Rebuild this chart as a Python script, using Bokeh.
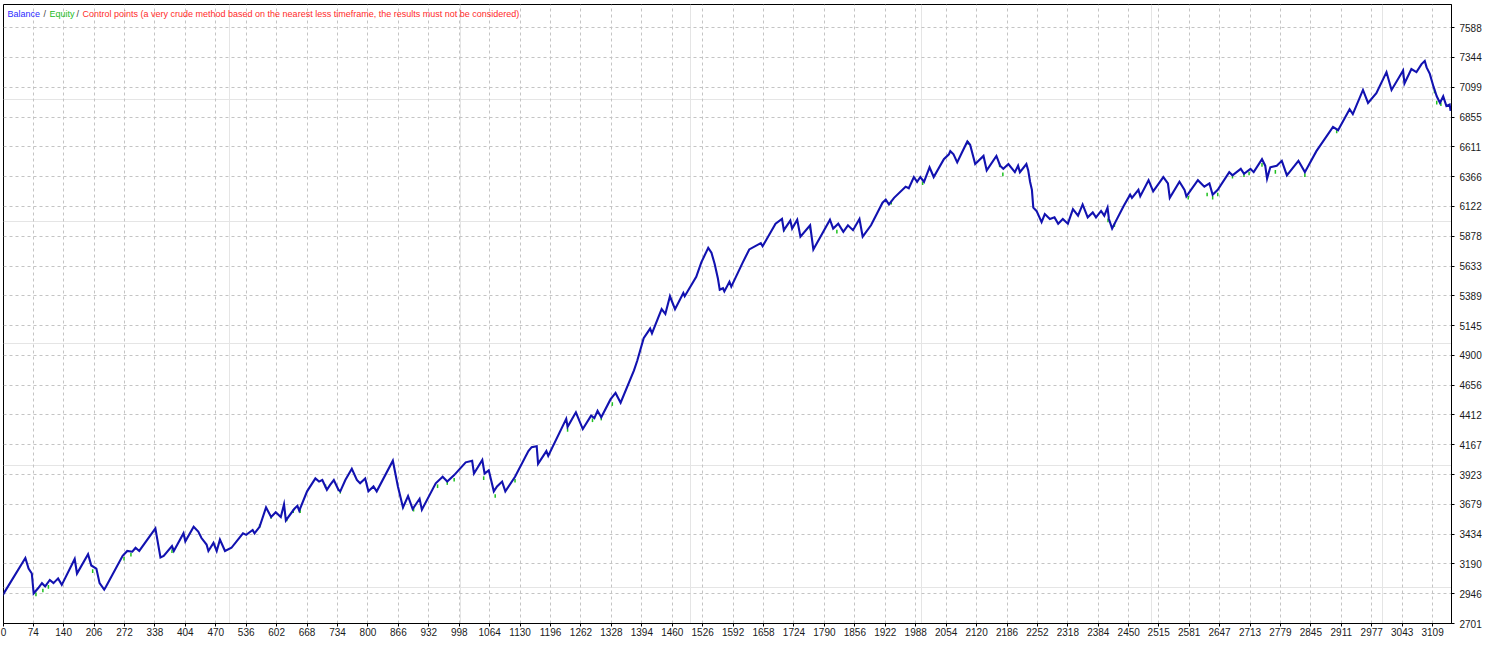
from bokeh.plotting import figure
from bokeh.models import LinearAxis, FixedTicker, Range1d, Label, Grid, ColumnDataSource
from bokeh.embed import file_html
from bokeh.resources import INLINE

# ---------------- data ----------------
trade_no = [0, 57, 64, 71, 75, 85, 93, 100, 110, 118, 128, 136, 164, 169, 193, 200, 211, 218, 228, 232,
            268, 278, 289, 296, 304, 339, 350, 357, 375, 379, 400, 404, 422, 432, 439, 450, 454, 465, 472, 479,
            490, 504, 529, 536, 550, 554, 565, 579, 590, 600, 611, 618, 622, 640, 647, 651, 668, 686, 694, 701,
            711, 718, 726, 736, 740, 751, 765, 776, 783, 794, 801, 812, 819, 854, 865, 876, 887, 897, 912, 917,
            947, 962, 972, 987, 1012, 1026, 1030, 1048, 1053, 1062, 1073, 1080, 1091, 1098, 1119, 1148, 1155, 1166, 1169, 1187,
            1191, 1230, 1233, 1251, 1266, 1284, 1291, 1298, 1306, 1326, 1337, 1348, 1377, 1384, 1398, 1412, 1416, 1430, 1437, 1445,
            1455, 1466, 1484, 1487, 1512, 1523, 1538, 1545, 1552, 1559, 1563, 1570, 1573, 1584, 1588, 1613, 1627, 1652, 1656, 1684,
            1698, 1702, 1716, 1720, 1731, 1738, 1759, 1766, 1802, 1809, 1820, 1831, 1841, 1852, 1866, 1873, 1891, 1916, 1923, 1930,
            1941, 1966, 1973, 1984, 1991, 1998, 2006, 2018, 2027, 2049, 2060, 2063, 2070, 2078, 2088, 2100, 2106, 2117, 2135, 2142,
            2163, 2171, 2178, 2189, 2203, 2210, 2214, 2228, 2232, 2236, 2240, 2243, 2250, 2261, 2268, 2279, 2289, 2297, 2307, 2318,
            2329, 2340, 2350, 2361, 2372, 2379, 2390, 2397, 2404, 2407, 2414, 2421, 2439, 2453, 2457, 2471, 2475, 2493, 2503, 2525,
            2535, 2539, 2560, 2571, 2575, 2600, 2614, 2625, 2632, 2643, 2668, 2675, 2693, 2700, 2714, 2721, 2739, 2746, 2750, 2757,
            2771, 2782, 2793, 2818, 2822, 2832, 2857, 2893, 2904, 2929, 2936, 2958, 2969, 2987, 3009, 3020, 3045, 3048, 3063, 3074,
            3085, 3092, 3096, 3103, 3111, 3118, 3125, 3132, 3139, 3146, 3148]
balance = [2885, 3238, 3151, 3111, 2947, 2992, 3032, 3005, 3058, 3032, 3071, 3018, 3230, 3111, 3270, 3177, 3151, 3032, 2979, 3005,
           3256, 3296, 3290, 3322, 3296, 3481, 3243, 3256, 3336, 3296, 3441, 3375, 3494, 3455, 3402, 3349, 3296, 3362, 3296, 3389,
           3296, 3322, 3441, 3428, 3468, 3441, 3494, 3653, 3574, 3613, 3574, 3679, 3547, 3640, 3666, 3626, 3785, 3891, 3865, 3878,
           3798, 3838, 3878, 3798, 3785, 3878, 3970, 3878, 3851, 3891, 3785, 3825, 3785, 4036, 3825, 3653, 3746, 3640, 3724, 3635,
           3851, 3904, 3865, 3918, 4023, 4036, 3931, 4042, 3931, 3957, 3785, 3825, 3865, 3785, 3904, 4115, 4147, 4155, 4010, 4115,
           4076, 4380, 4314, 4433, 4296, 4406, 4385, 4446, 4393, 4539, 4592, 4512, 4777, 4856, 5041, 5120, 5081, 5213, 5279, 5240,
           5385, 5279, 5412, 5385, 5544, 5663, 5782, 5742, 5650, 5531, 5438, 5451, 5425, 5504, 5464, 5663, 5769, 5821, 5795, 5980,
           6019, 5927, 6006, 5940, 6013, 5874, 5967, 5769, 6013, 5940, 5980, 5914, 5967, 5927, 6019, 5874, 5967, 6152, 6178, 6138,
           6192, 6284, 6271, 6363, 6324, 6363, 6324, 6443, 6363, 6509, 6549, 6575, 6549, 6483, 6562, 6655, 6628, 6469, 6536, 6417,
           6536, 6456, 6430, 6469, 6403, 6456, 6403, 6469, 6417, 6324, 6258, 6112, 6085, 5993, 6059, 6019, 6032, 5980, 6019, 5980,
           6099, 6046, 6138, 6032, 6072, 6032, 6085, 6046, 6112, 6019, 5940, 5993, 6125, 6218, 6192, 6258, 6205, 6337, 6245, 6363,
           6310, 6192, 6324, 6258, 6205, 6337, 6284, 6310, 6218, 6258, 6403, 6377, 6430, 6390, 6430, 6403, 6509, 6456, 6350, 6443,
           6456, 6496, 6377, 6496, 6469, 6403, 6575, 6774, 6747, 6919, 6879, 7077, 6971, 7051, 7223, 7077, 7236, 7130, 7249, 7223,
           7289, 7315, 7262, 7209, 7104, 7025, 6971, 7025, 6945, 6958, 6905]

equity_dip_x = [80, 95, 107, 203, 271, 286, 375, 565, 590, 624, 638, 653, 708, 740, 876, 899, 951, 972, 987, 1051,
                1076, 1119, 1233, 1287, 1306, 1330, 1702, 1759, 1817, 1935, 2003, 2102, 2170, 2177, 2405, 2419, 2579, 2620,
                2632, 2643, 2675, 2700, 2711, 2739, 2768, 2793, 2832, 2901, 3113, 3118, 3127]
equity_dip_low = [2925, 2957, 2987, 3116, 3217, 3251, 3280, 3486, 3560, 3540, 3608, 3608, 3812, 3766, 3645, 3619, 3812, 3838, 3865, 3878,
                  3732, 3857, 4274, 4353, 4367, 4486, 5914, 5927, 5900, 6138, 6297, 6628, 6443, 6370, 5993, 5953, 6178, 6205,
                  6178, 6205, 6350, 6363, 6377, 6448, 6390, 6370, 6363, 6721, 7051, 6958, 6945]

x_tick_labels = [0, 74, 140, 206, 272, 338, 404, 470, 536, 602, 668, 734, 800, 866, 932, 998, 1064, 1130, 1196, 1262,
                 1328, 1394, 1460, 1526, 1592, 1658, 1724, 1790, 1856, 1922, 1988, 2054, 2120, 2186, 2252, 2318, 2384,
                 2450, 2515, 2581, 2647, 2713, 2779, 2845, 2911, 2977, 3043, 3109]
y_tick_labels = [2701, 2946, 3190, 3434, 3679, 3923, 4167, 4412, 4656, 4900, 5145, 5389, 5633, 5878, 6122, 6366,
                 6611, 6855, 7099, 7344, 7588]

X_START, X_END = 9.6, 3150
Y_START, Y_END = 2701, 7778

FONT = "Liberation Sans"

p = figure(width=1484, height=638, output_backend="svg", toolbar_location=None,
           x_range=Range1d(X_START, X_END), y_range=Range1d(Y_START, Y_END),
           x_axis_location=None, y_axis_location=None,
           min_border_left=3, min_border_right=0, min_border_top=4, min_border_bottom=0)
p.background_fill_color = "white"
p.border_fill_color = "white"
p.outline_line_color = "black"
p.outline_line_width = 1

x_pos = [max(v, X_START) for v in x_tick_labels]
x_over = {pos: str(lbl) for pos, lbl in zip(x_pos, x_tick_labels)}
xticker = FixedTicker(ticks=x_pos, minor_ticks=[])
yticker = FixedTicker(ticks=y_tick_labels, minor_ticks=[])

xaxis = LinearAxis(ticker=xticker, major_label_overrides=x_over)
yaxis = LinearAxis(ticker=yticker)
for ax in (xaxis, yaxis):
    ax.axis_line_color = "black"
    ax.major_tick_line_color = "black"
    ax.major_tick_in = 0
    ax.major_tick_out = 3
    ax.minor_tick_in = 0
    ax.minor_tick_out = 0
    ax.major_label_text_font = FONT
    ax.major_label_text_font_size = "10px"
    ax.major_label_text_color = "#1a1a1a"
xaxis.major_label_standoff = 1
yaxis.major_label_standoff = 5
p.add_layout(xaxis, "below")
p.add_layout(yaxis, "right")

for dim, tk in ((0, xticker), (1, yticker)):
    p.add_layout(Grid(dimension=dim, ticker=tk, grid_line_color="#c4c4c4",
                      grid_line_dash="3 3", grid_line_width=1))

# equity dips (green) drawn below balance
dips = ColumnDataSource(dict(x=equity_dip_x, y0=equity_dip_low,
                             y1=[v + 30 for v in equity_dip_low]))
p.segment(x0="x", y0="y0", x1="x", y1="y1", source=dips, line_color="#20c020", line_width=1.5)

src = ColumnDataSource(dict(x=trade_no, y=balance))
p.line("x", "y", source=src, line_color="#1212b0", line_width=2.1, line_join="miter")

# header legend text
parts = [("Balance", "#2a2aff", 4), ("/", "#404040", 40), ("Equity", "#22bb22", 46), ("/", "#404040", 73),
         ("Control points (a very crude method based on the nearest less timeframe, the results must not be considered)",
          "#ff2a2a", 79)]
for txt, col, off in parts:
    p.add_layout(Label(x=X_START, y=Y_END, x_offset=off, y_offset=-9, text=txt, text_color=col,
                       text_font=FONT, text_font_size="9px", text_baseline="middle", text_align="left"))

open("out.html", "w").write(file_html(p, INLINE))
